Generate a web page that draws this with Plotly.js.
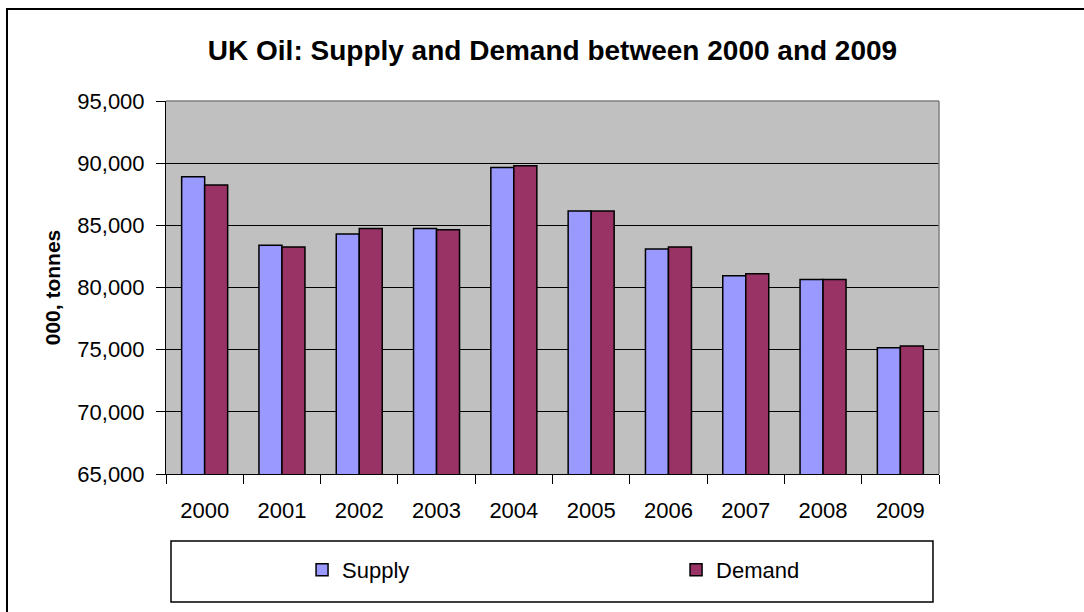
<!DOCTYPE html>
<html>
<head>
<meta charset="utf-8">
<script src="https://cdn.plot.ly/plotly-3.0.1.min.js"></script>
<style>
html,body{margin:0;padding:0;background:#fff;}
#chart{width:1084px;height:612px;}
</style>
</head>
<body>
<div id="chart"></div>
<script>
var years = ['2000','2001','2002','2003','2004','2005','2006','2007','2008','2009'];
var supply = [88900, 83400, 84300, 84750, 89650, 86150, 83100, 80950, 80650, 75150];
var demand = [88250, 83250, 84750, 84650, 89800, 86150, 83250, 81100, 80650, 75300];
var seriesNames = ['Supply', 'Demand'];
var titleText = 'UK Oil: Supply and Demand between 2000 and 2009';
var yTitleText = '000, tonnes';

var FONT = 'Liberation Sans, Arial, sans-serif';

var traces = [
  {type:'bar', name:seriesNames[0], x:years, y:supply,
   marker:{color:'#9999FF', line:{color:'#000000', width:1.5}}},
  {type:'bar', name:seriesNames[1], x:years, y:demand,
   marker:{color:'#993366', line:{color:'#000000', width:1.5}}}
];

var layout = {
  width:1084, height:612,
  margin:{l:166, r:145, t:101, b:138},
  paper_bgcolor:'#ffffff',
  plot_bgcolor:'#C0C0C0',
  barmode:'group',
  bargap:0.405,
  bargroupgap:0,
  font:{family:FONT, color:'#000000', size:22},
  title:{text:'<b>'+titleText+'</b>', font:{family:FONT, size:28, color:'#000'},
         x:0.5, xref:'paper', xanchor:'center', y:1-50/612, yref:'container', yanchor:'middle'},
  xaxis:{type:'category', showline:true, linecolor:'#000', linewidth:1,
         ticks:'outside', tickson:'boundaries', ticklen:9, tickcolor:'#000', tickwidth:1,
         ticklabelstandoff:17,
         tickfont:{family:FONT, size:22}, showgrid:false, zeroline:false, fixedrange:true},
  yaxis:{range:[65000,95000], dtick:5000, tick0:65000, tickformat:',d',
         showline:true, linecolor:'#000', linewidth:1,
         ticks:'outside', ticklen:9, tickcolor:'#000', tickwidth:1,
         ticklabelstandoff:7,
         tickfont:{family:FONT, size:22},
         showgrid:true, gridcolor:'#000', gridwidth:1, zeroline:false,
         title:{text:'<b>'+yTitleText+'</b>', font:{family:FONT, size:21}, standoff:10},
         fixedrange:true},
  showlegend:true,
  legend:{orientation:'h', x:0.176, xanchor:'left', y:-0.257, yanchor:'middle',
          entrywidth:329, entrywidthmode:'pixels',
          bgcolor:'rgba(0,0,0,0)', borderwidth:0,
          font:{family:FONT, size:22}, traceorder:'normal'},
  shapes:[
    {type:'rect', xref:'paper', yref:'paper', x0:-0.2057, x1:1.3, y0:-0.6, y1:1.2466,
     line:{color:'#000', width:2}, fillcolor:'rgba(0,0,0,0)', layer:'below'},
    {type:'line', xref:'paper', yref:'paper', x0:0, x1:1, y0:1, y1:1,
     line:{color:'#808080', width:1.5}, layer:'above'},
    {type:'line', xref:'paper', yref:'paper', x0:1, x1:1, y0:0, y1:1,
     line:{color:'#808080', width:1.5}, layer:'above'},
    {type:'rect', xref:'paper', yref:'paper', x0:0.00647, x1:0.9922, y0:-0.3432, y1:-0.1796,
     line:{color:'#000', width:1.5}, fillcolor:'rgba(0,0,0,0)', layer:'below'}
  ]
};

Plotly.newPlot('chart', traces, layout, {staticPlot:true, displayModeBar:false});
</script>
</body>
</html>
